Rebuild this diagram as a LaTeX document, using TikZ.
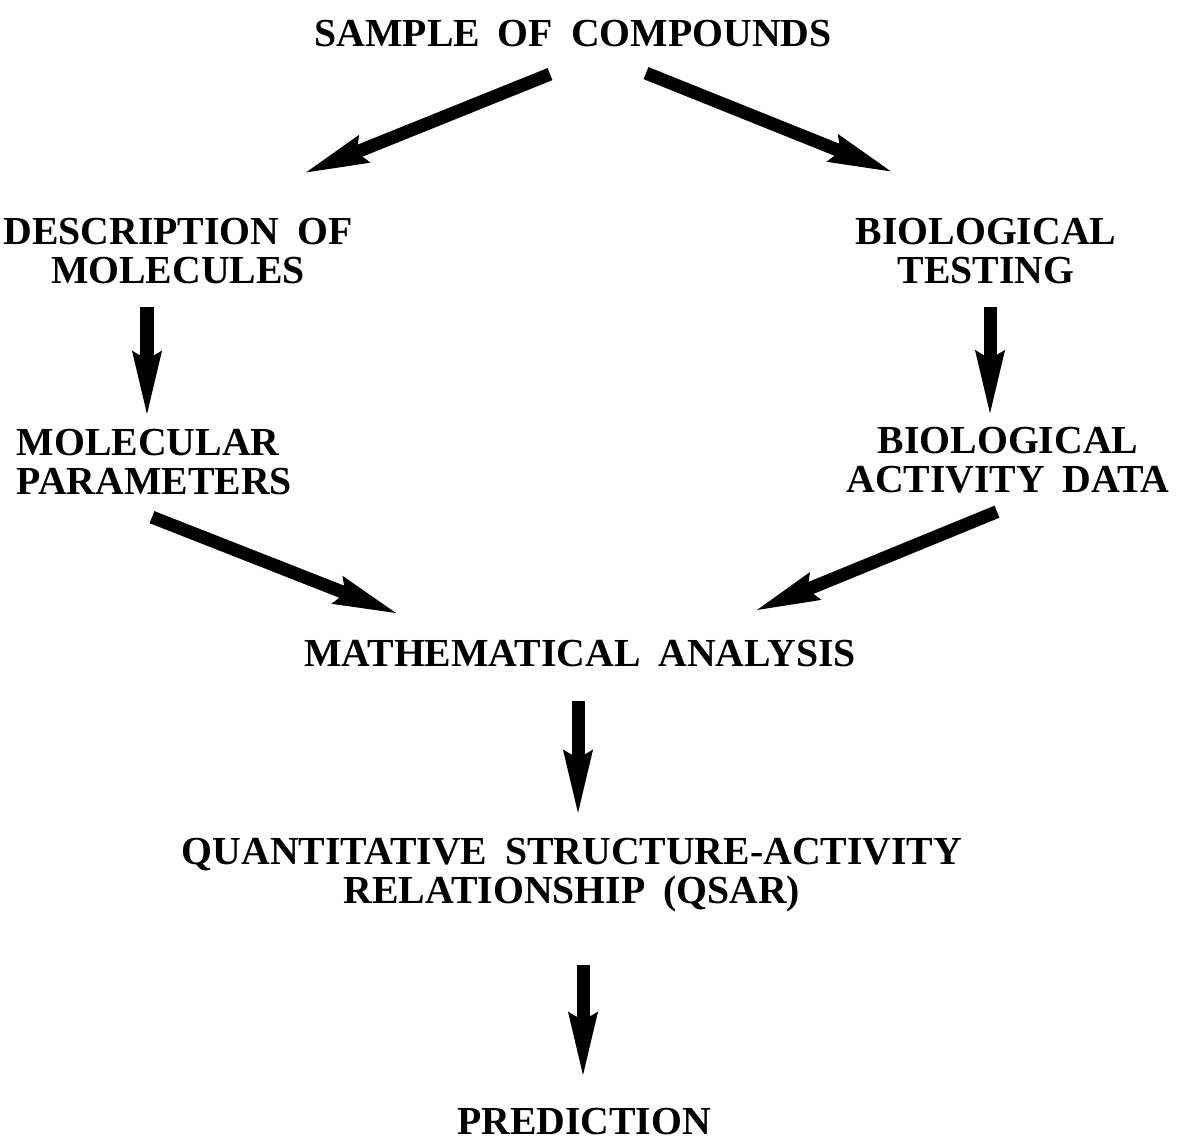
\documentclass[tikz,border=0pt]{standalone}
\usepackage{fontspec}
\setmainfont{Liberation Serif}[WordSpace=1.8]
\usetikzlibrary{arrows.meta}

\begin{document}
\begin{tikzpicture}[x=0.01cm, y=-0.01cm,
		every node/.style={inner sep=0pt,
			font=\bfseries\fontsize{11.3}{11.1}\selectfont},
		flow/.style={line width=3.7pt,
			-{Stealth[length=18pt, width=8.5pt, inset=2.5pt, line width=0.5pt]}}]
		% Work in pixel units, y running downwards.
		\useasboundingbox (0,0) rectangle (1183,1142);

		% The stages, top to bottom.
		\node[anchor=base] (sample) at (573,46) {SAMPLE OF COMPOUNDS};
		\node[align=center] (desc) at (178,251.5) {DESCRIPTION OF\\MOLECULES};
		\node[align=center] (test) at (986,251.5) {BIOLOGICAL\\TESTING};
		\node[align=left, anchor=north west] (molpar) at (16,428)
			{MOLECULAR\\PARAMETERS};
		\node[align=center] (actdata) at (1008,460.5)
			{BIOLOGICAL\\ACTIVITY DATA};
		\node[anchor=base] (math) at (580,666) {MATHEMATICAL ANALYSIS};
		\node[align=center] (qsar) at (572,875.5)
			{QUANTITATIVE STRUCTURE-ACTIVITY\\RELATIONSHIP (QSAR)};
		\node[anchor=base] (pred) at (584,1134) {PREDICTION};

		% The two branches out of the sample.
		\draw[flow] ([shift={(-23,27)}]sample.south) --
			([shift={(128,-45.5)}]desc.north);
		\draw[flow] ([shift={(73,26)}]sample.south) --
			([shift={(-95,-46.5)}]test.north);
		\draw[flow] ([shift={(-31,21.5)}]desc.south) --
			([shift={(131,-14)}]molpar.north west);
		\draw[flow] ([shift={(4,21.5)}]test.south) --
			([shift={(-18,-13.5)}]actdata.north);

		% They meet again in the analysis.
		\draw[flow] ([shift={(136,22)}]molpar.south west) --
			([shift={(-184,-26)}]math.north);
		\draw[flow] ([shift={(-11,17.5)}]actdata.south) --
			([shift={(177,-29)}]math.north);
		\draw[flow] ([shift={(-2,34)}]math.south) --
			([shift={(6,-25)}]qsar.north);
		\draw[flow] ([shift={(11,52)}]qsar.south) --
			([shift={(-1,-32)}]pred.north);
	\end{tikzpicture}
\end{document}
